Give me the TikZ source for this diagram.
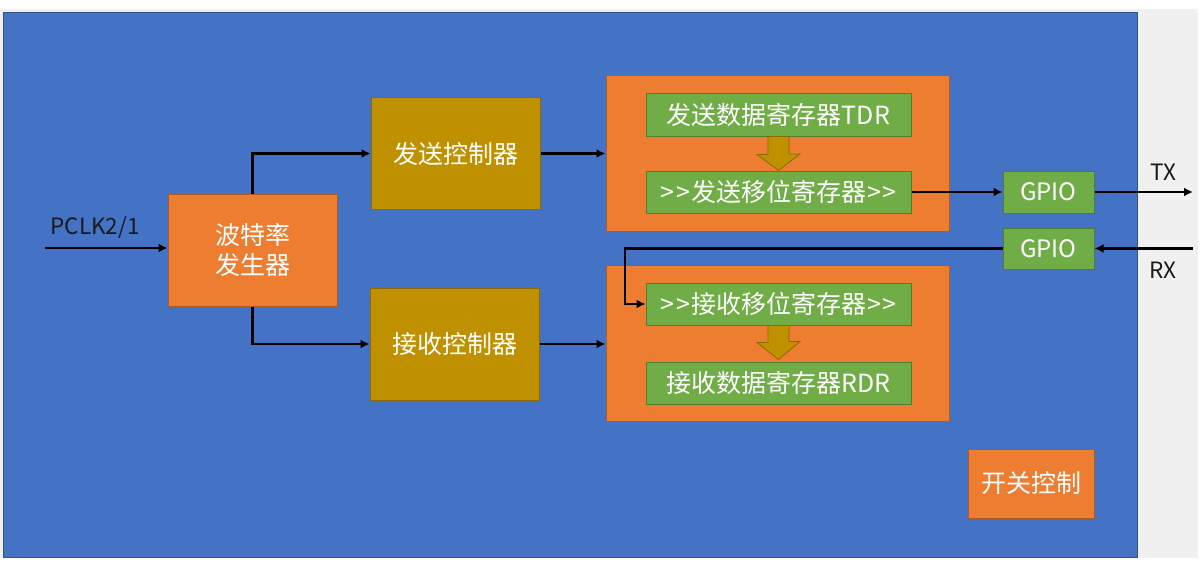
\documentclass[tikz,border=0pt]{standalone}
\usepackage{fontspec}
\setmainfont{Noto Sans CJK SC}
\usetikzlibrary{arrows.meta}
\definecolor{bgblue}{HTML}{4472C4}
\definecolor{bgblueb}{HTML}{2F528F}
\definecolor{orng}{HTML}{ED7D31}
\definecolor{orngb}{HTML}{AE5A21}
\definecolor{grn}{HTML}{70AD47}
\definecolor{grnb}{HTML}{507E32}
\definecolor{gold}{HTML}{BF9000}
\definecolor{goldb}{HTML}{8C6A00}
\definecolor{greybg}{HTML}{F0F0F0}
\definecolor{lbl}{HTML}{1A1A1A}
\newcommand{\gtgt}{>\kern2pt>\kern1pt}
\newcommand{\gtgtend}{\kern1pt>\kern2pt>}
\tikzset{
  box/.style={draw, line width=1pt, inner sep=0pt, text=white, font=\fontsize{25}{30}\selectfont, align=center},
  orangebox/.style={box, fill=orng, draw=orngb},
  goldbox/.style={box, fill=gold, draw=goldb},
  greenbox/.style={box, fill=grn, draw=grnb},
  arr/.style={line width=2.6pt, draw=black, -{Latex[length=9pt,width=9pt]}},
  fat/.style={fill=gold, draw=goldb, line width=0.8pt, line join=miter},
  outlbl/.style={text=lbl, font=\fontsize{22.5}{26}\selectfont, inner sep=0pt}
}
\begin{document}
\begin{tikzpicture}[x=1pt,y=-1pt]
\useasboundingbox (0,0) rectangle (1204,565);
\fill[white] (0,0) rectangle (1204,565);
\fill[greybg] (0,9) rectangle (1198,558);
\draw[fill=bgblue, draw=bgblueb, line width=0.8pt] (3,12) rectangle (1137,557);

% main blocks
\node[orangebox, minimum width=169pt, minimum height=112pt] (baud) at (252.5,250) {波特率\\发生器};
\node[goldbox, minimum width=169pt, minimum height=112pt] (sendctrl) at (455.5,153.5) {发送控制器};
\node[goldbox, minimum width=169pt, minimum height=112pt] (recvctrl) at (454.5,344) {接收控制器};

\node[orangebox, minimum width=343pt, minimum height=156pt] (sendbox) at (777.5,153) {};
\node[orangebox, minimum width=343pt, minimum height=156pt] (recvbox) at (777.5,343) {};

\node[greenbox, minimum width=265pt, minimum height=43pt] (tdr) at (778.5,114.5) {发送数据寄存器TDR};
\node[greenbox, minimum width=265pt, minimum height=42pt] (tsh) at (778.5,192) {\gtgt 发送移位寄存器\gtgtend};
\node[greenbox, minimum width=265pt, minimum height=42pt] (rsh) at (778.5,304) {\gtgt 接收移位寄存器\gtgtend};
\node[greenbox, minimum width=265pt, minimum height=42pt] (rdr) at (778.5,383) {接收数据寄存器RDR};

\node[greenbox, minimum width=91pt, minimum height=42pt, font=\fontsize{24}{28}\selectfont] (gtx) at (1048.5,192) {GPIO};
\node[greenbox, minimum width=91pt, minimum height=41pt, font=\fontsize{24}{28}\selectfont] (grx) at (1048.5,248.5) {GPIO};

\node[orangebox, minimum width=126pt, minimum height=69pt] (sw) at (1031,483.5) {开关控制};

% labels
\node[outlbl] (pclklbl) at (95,228) {PCLK2/1};
\node[outlbl] (txlbl) at (1163,172) {TX};
\node[outlbl] (rxlbl) at (1163,270) {RX};

% coordinates
\coordinate (pclk) at (45,248);
\coordinate (txend) at (1193,192);
\coordinate (rxstart) at (1193,248.5);
\coordinate (rxbend) at (625,0);

% connectors
\draw[arr] (pclk) -- (pclk -| baud.west);
\draw[arr] (baud.north) |- (sendctrl.west);
\draw[arr] (baud.south) |- (recvctrl.west);
\draw[arr] (sendctrl.east) -- (sendctrl.east -| sendbox.west);
\draw[arr] (recvctrl.east) -- (recvctrl.east -| recvbox.west);
\draw[arr] (tsh.east) -- (gtx.west);
\draw[arr] (gtx.east) -- (txend);
\draw[arr] (rxstart) -- (grx.east);
\draw[arr] (grx.west) -- (grx.west -| rxbend) |- (rsh.west);

% fat arrows
\draw[fat] ([xshift=-10.5pt]tdr.south) -- ++(0,18) -- ++(-11,0) -- (tsh.north) -- ++(21.5,-16.5) -- ++(-11,0) -- ([xshift=10.5pt]tdr.south) -- cycle;
\draw[fat] ([xshift=-10.5pt]rsh.south) -- ++(0,17) -- ++(-11,0) -- ([yshift=2pt]rdr.north) -- ++(21.5,-18) -- ++(-11,0) -- ([xshift=10.5pt]rsh.south) -- cycle;
\end{tikzpicture}
\end{document}
